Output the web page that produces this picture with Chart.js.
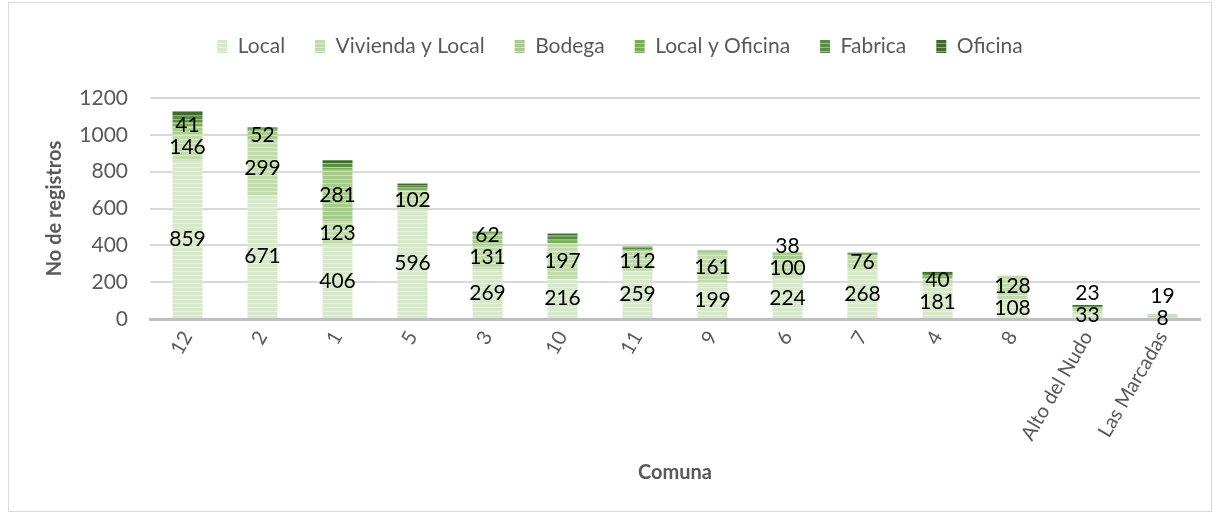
<!DOCTYPE html>
<html>
<head>
<meta charset="utf-8">
<title>No de registros por Comuna</title>
<script src="https://cdn.jsdelivr.net/npm/chart.js@4.4.0/dist/chart.umd.min.js"></script>
<style>
    html, body { margin: 0; padding: 0; background: #fff; }
    #wrap { position: relative; width: 1219px; height: 514px; }
    #frame { position: absolute; left: 8px; top: 2px; width: 1202px; height: 508px; border: 1px solid #d9d9d9; pointer-events: none; }
</style>
</head>
<body>
<div id="wrap">
    <canvas id="chart" width="1219" height="514"></canvas>
    <div id="frame"></div>
</div>
<script>
/* global Chart */

var comunas = ['12', '2', '1', '5', '3', '10', '11', '9', '6', '7', '4', '8', 'Alto del Nudo', 'Las Marcadas'];
var yTicks = [0, 200, 400, 600, 800, 1000, 1200];

var local          = [859, 671, 406, 596, 269, 216, 259, 199, 224, 268, 181, 108, 33, 8];
var viviendaLocal  = [146, 299, 123, 102, 131, 197, 112, 161, 100, 76, 40, 128, 23, 19];
var bodega         = [41, 52, 281, 0, 62, 0, 0, 0, 38, 0, 0, 0, 0, 0];
var localOficina   = [22, 6, 14, 10, 4, 15, 6, 3, 0, 5, 10, 0, 6, 0];
var fabrica        = [34, 8, 22, 17, 5, 20, 9, 5, 0, 6, 14, 0, 8, 0];
var oficina        = [27, 6, 16, 12, 4, 16, 7, 3, 0, 5, 11, 0, 6, 0];

var FONT = 'Lato';
var GREY = '#595959';

// horizontal stripes like the Excel fill
function stripes(color) {
    var c = document.createElement('canvas');
    c.width = 4;
    c.height = 4;
    var g = c.getContext('2d');
    g.fillStyle = color;
    g.fillRect(0, 0, 4, 4);
    g.fillStyle = 'rgba(255,255,255,0.4)';
    g.fillRect(0, 3, 4, 1);
    return g.createPattern(c, 'repeat');
}

function series(label, data, color, showLabels) {
    return {
        label: label,
        data: data,
        backgroundColor: stripes(color),
        borderWidth: 0,
        showLabels: showLabels,
        barPercentage: 0.5,
        categoryPercentage: 0.8
    };
}

// numbers inside the segments, pushed apart when they would overlap
var segmentLabels = {
    id: 'segmentLabels',
    afterDatasetsDraw: function (chart) {
        var ctx = chart.ctx;
        ctx.save();
        ctx.font = '21px ' + FONT;
        ctx.fillStyle = '#000';
        ctx.textAlign = 'center';
        ctx.textBaseline = 'middle';
        chart.data.labels.forEach(function (_, i) {
            var lastY = Infinity;
            chart.data.datasets.forEach(function (ds, d) {
                if (!ds.showLabels || !ds.data[i]) return;
                var bar = chart.getDatasetMeta(d).data[i];
                var y = Math.min((bar.y + bar.base) / 2, lastY - 22);
                ctx.fillText(String(ds.data[i]), bar.x, y);
                lastY = y;
            });
        });
        ctx.restore();
    }
};

// extra room below the legend
var legendGap = {
    id: 'legendGap',
    beforeInit: function (chart) {
        var fit = chart.legend.fit;
        chart.legend.fit = function () {
            fit.bind(chart.legend)();
            this.height += 31;
        };
    }
};

new Chart(document.getElementById('chart'), {
    type: 'bar',
    data: {
        labels: comunas,
        datasets: [
            series('Local', local, '#d6e9c9', true),
            series('Vivienda y Local', viviendaLocal, '#c0dca9', true),
            series('Bodega', bodega, '#a4cd86', true),
            series('Local y Oficina', localOficina, '#74b347', false),
            series('Fabrica', fabrica, '#54913a', false),
            series('Oficina', oficina, '#3b6e28', false)
        ]
    },
    options: {
        responsive: false,
        animation: false,
        layout: { padding: { top: 6, left: 40, right: 19, bottom: 0 } },
        plugins: {
            tooltip: { enabled: false },
            legend: {
                position: 'top',
                labels: {
                    boxWidth: 10,
                    boxHeight: 13,
                    padding: 30,
                    color: GREY,
                    font: { family: FONT, size: 21 }
                }
            }
        },
        scales: {
            x: {
                stacked: true,
                grid: { display: false, drawTicks: false },
                border: { display: true, color: '#bfbfbf', width: 3 },
                ticks: {
                    color: GREY,
                    font: { family: FONT, size: 20 },
                    minRotation: 60,
                    maxRotation: 60,
                    padding: 8
                },
                title: {
                    display: true,
                    text: 'Comuna',
                    color: GREY,
                    font: { family: FONT, size: 20, weight: 'bold' },
                    padding: { top: 0, bottom: 29 }
                },
                afterFit: function (scale) { scale.height = 514 - 319; }
            },
            y: {
                stacked: true,
                min: 0,
                max: 1200,
                afterBuildTicks: function (scale) {
                    scale.ticks = yTicks.map(function (v) { return { value: v }; });
                },
                grid: { color: '#d9d9d9', lineWidth: 2, drawTicks: false },
                border: { display: false },
                ticks: {
                    color: GREY,
                    font: { family: FONT, size: 21 },
                    padding: 22,
                    callback: function (v) { return String(v); }
                },
                title: {
                    display: true,
                    text: 'No de registros',
                    color: GREY,
                    font: { family: FONT, size: 20, weight: 'bold' },
                    padding: { top: 3, bottom: 0 }
                },
                afterFit: function (scale) { scale.width = 110; }
            }
        }
    },
    plugins: [segmentLabels, legendGap]
});
</script>
</body>
</html>
